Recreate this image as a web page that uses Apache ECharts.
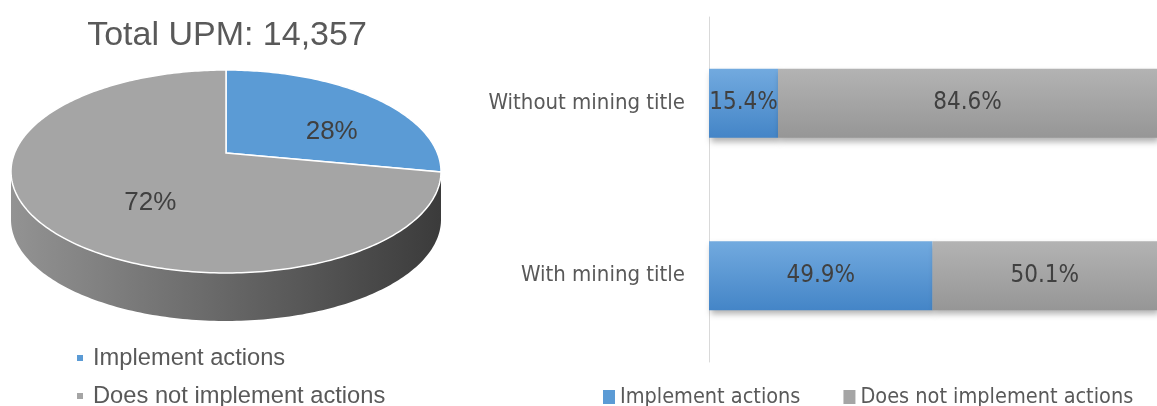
<!DOCTYPE html>
<html>
<head>
<meta charset="utf-8">
<script src="https://cdn.jsdelivr.net/npm/echarts@6/dist/echarts.min.js"></script>
<style>
  html, body { margin: 0; padding: 0; background: #ffffff; }
  #chart { width: 1157px; height: 406px; }
</style>
</head>
<body>
<div id="chart"></div>
<script>
// Share of UPM that implement actions (percent of total)
const seriesNames = ['Implement actions', 'Does not implement actions'];
const pieValues = [28, 72];
const totalUpm = '14,357';

// Split by mining title status (percent within each group)
const barCategories = ['Without mining title', 'With mining title'];
const implementPct = [15.4, 49.9];
const notImplementPct = [84.6, 50.1];

const BLUE = '#5b9bd5';
const GRAY = '#a5a5a5';
const NARROW = "'Liberation Sans Narrow', 'DejaVu Sans Condensed', 'Noto Sans', sans-serif";
const ARIAL = "'Liberation Sans', Arial, sans-serif";

// Tilted 3D pie seen in perspective: projected centre, horizontal/vertical scale,
// perspective strength and thickness of the disc.
const PIE = { cx: 226, cy: 153, sx: 211.4, sy: 98.1, p: 0.1823, depth: 48 };
const pieTotal = pieValues.reduce((a, b) => a + b, 0);

// Angle t is measured clockwise from the far (top) point of the disc.
function rimPoint(t, dy) {
  const c = Math.cos(t);
  const w = 1 + PIE.p * c;
  return [PIE.cx + PIE.sx * Math.sin(t) / w, PIE.cy - PIE.sy * c / w + (dy || 0)];
}
function sliceAngles(idx) {
  let before = 0;
  for (let i = 0; i < idx; i++) before += pieValues[i];
  const a0 = before / pieTotal * Math.PI * 2;
  const a1 = (before + pieValues[idx]) / pieTotal * Math.PI * 2;
  return [a0, a1];
}
function arcPoints(a0, a1, dy) {
  const pts = [];
  const n = Math.max(2, Math.ceil((a1 - a0) / (Math.PI / 180)));
  for (let i = 0; i <= n; i++) pts.push(rimPoint(a0 + (a1 - a0) * i / n, dy));
  return pts;
}
// The outer wall is visible between the two silhouette points of the rim
const wallFrom = Math.acos(-PIE.p);
const wallTo = Math.PI * 2 - wallFrom;

const sideColors = [
  ['#4a7eae', '#2f5b85'],
  ['#939393', '#3b3b3b']
];

function renderSide(params, api) {
  const idx = params.dataIndex;
  const [a0, a1] = sliceAngles(idx);
  const s = Math.max(a0, wallFrom);
  const e = Math.min(a1, wallTo);
  if (e <= s) return null;
  const top = arcPoints(s, e, 0);
  const bottom = arcPoints(s, e, PIE.depth).reverse();
  const cols = sideColors[idx];
  return {
    type: 'polygon',
    shape: { points: top.concat(bottom) },
    style: {
      fill: {
        type: 'linear', x: 10, y: 0, x2: 440, y2: 0, global: true,
        colorStops: [
          { offset: 0, color: cols[0] },
          { offset: 1, color: cols[1] }
        ]
      }
    }
  };
}

function renderTop(params, api) {
  const idx = params.dataIndex;
  const [a0, a1] = sliceAngles(idx);
  const pts = [[PIE.cx, PIE.cy]].concat(arcPoints(a0, a1, 0));
  const mid = (a0 + a1) / 2;
  const k = 0.55;
  const lx = 241 + k * 214 * Math.sin(mid);
  const ly = 167 - k * 101 * Math.cos(mid);
  return {
    type: 'group',
    children: [
      {
        type: 'polygon',
        shape: { points: pts },
        style: { fill: idx === 0 ? BLUE : GRAY, stroke: '#ffffff', lineWidth: 1.5 }
      },
      {
        type: 'text',
        x: lx, y: ly,
        style: {
          text: api.value(0) + '%',
          fill: '#404040',
          font: '26px ' + ARIAL,
          align: 'center',
          verticalAlign: 'middle'
        }
      }
    ]
  };
}

const pieLegendText = { fontFamily: ARIAL, fontSize: 23.7, color: '#595959', padding: [0, 0, 0, 5] };
const barLegendText = { fontFamily: NARROW, fontSize: 21.5, color: '#595959' };

const chart = echarts.init(document.getElementById('chart'), null, { renderer: 'canvas' });

chart.setOption({
  animation: false,
  backgroundColor: '#ffffff',
  title: {
    text: 'Total UPM: ' + totalUpm,
    left: 222,
    textAlign: 'center',
    top: 14,
    textStyle: { fontFamily: ARIAL, fontSize: 34, fontWeight: 'normal', color: '#595959' }
  },
  legend: [
    {
      left: 72, top: 341,
      icon: 'rect', itemWidth: 6, itemHeight: 6,
      data: [{ name: seriesNames[0], itemStyle: { color: BLUE } }],
      textStyle: pieLegendText
    },
    {
      left: 72, top: 379,
      icon: 'rect', itemWidth: 6, itemHeight: 6,
      data: [{ name: seriesNames[1], itemStyle: { color: GRAY } }],
      textStyle: pieLegendText
    },
    {
      orient: 'horizontal',
      left: 598,
      top: 381,
      icon: 'rect',
      itemWidth: 12,
      itemHeight: 14,
      itemGap: 43,
      data: [
        { name: seriesNames[0], itemStyle: { color: BLUE } },
        { name: seriesNames[1], itemStyle: { color: GRAY } }
      ],
      textStyle: barLegendText
    }
  ],
  grid: { left: 709, right: 0, top: 17, bottom: 44, containLabel: false },
  xAxis: {
    type: 'value', min: 0, max: 100,
    show: false
  },
  yAxis: {
    type: 'category',
    inverse: true,
    data: barCategories,
    axisLine: { show: true, lineStyle: { color: '#d9d9d9', width: 1 } },
    axisTick: { show: false },
    axisLabel: { margin: 24, fontFamily: NARROW, fontSize: 22, color: '#595959' },
    splitLine: { show: false }
  },
  series: [
    {
      name: 'pieSide',
      type: 'custom',
      coordinateSystem: 'none',
      renderItem: renderSide,
      data: pieValues.map(v => [v]),
      silent: true,
      z: 1
    },
    {
      name: 'pieTop',
      type: 'custom',
      coordinateSystem: 'none',
      renderItem: renderTop,
      data: pieValues.map(v => [v]),
      silent: true,
      z: 2
    },
    {
      name: seriesNames[0],
      type: 'bar',
      stack: 'share',
      barWidth: 69,
      data: implementPct,
      itemStyle: {
        color: {
          type: 'linear', x: 0, y: 0, x2: 0, y2: 1,
          colorStops: [{ offset: 0, color: '#72aadf' }, { offset: 1, color: '#4485c7' }]
        },
        shadowBlur: 6, shadowOffsetX: 2, shadowOffsetY: 4, shadowColor: 'rgba(0,0,0,0.3)'
      },
      label: {
        show: true, position: 'inside', formatter: '{c}%',
        fontFamily: NARROW, fontSize: 24, color: '#404040'
      }
    },
    {
      name: seriesNames[1],
      type: 'bar',
      stack: 'share',
      barWidth: 69,
      data: notImplementPct,
      itemStyle: {
        color: {
          type: 'linear', x: 0, y: 0, x2: 0, y2: 1,
          colorStops: [{ offset: 0, color: '#b3b3b3' }, { offset: 1, color: '#969696' }]
        },
        shadowBlur: 6, shadowOffsetX: 2, shadowOffsetY: 4, shadowColor: 'rgba(0,0,0,0.3)'
      },
      label: {
        show: true, position: 'inside', formatter: '{c}%',
        fontFamily: NARROW, fontSize: 24, color: '#404040'
      }
    }
  ]
});
</script>
</body>
</html>
